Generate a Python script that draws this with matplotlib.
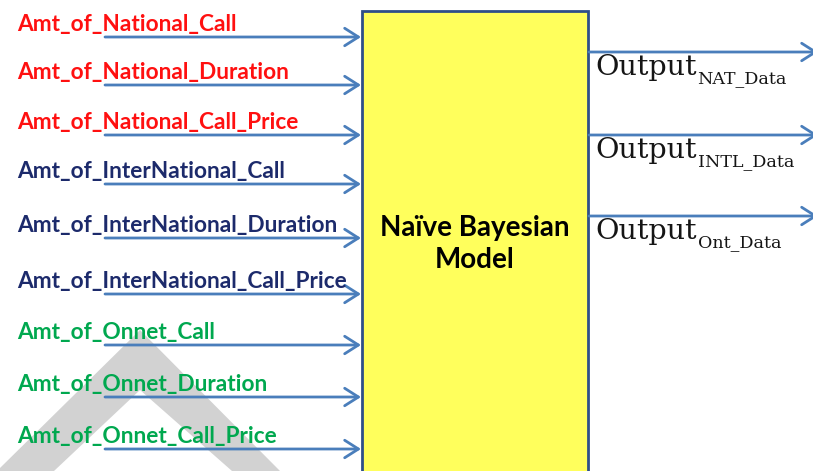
import matplotlib.pyplot as plt
from matplotlib.patches import Rectangle, Polygon

# inputs to the model (label, colour group)
input_labels = ['Amt_of_National_Call', 'Amt_of_National_Duration', 'Amt_of_National_Call_Price',
                'Amt_of_InterNational_Call', 'Amt_of_InterNational_Duration', 'Amt_of_InterNational_Call_Price',
                'Amt_of_Onnet_Call', 'Amt_of_Onnet_Duration', 'Amt_of_Onnet_Call_Price']
input_groups = ['nat', 'nat', 'nat', 'intl', 'intl', 'intl', 'onnet', 'onnet', 'onnet']
input_y = [37, 85, 135, 184, 238, 294, 345, 397, 449]

output_subs = ['NAT_Data', 'INTL_Data', 'Ont_Data']
output_y = [52, 135, 216]

model_name = 'Naïve Bayesian\nModel'

group_colors = {'nat': '#FF1010', 'intl': '#1C2A6B', 'onnet': '#00A84F'}
arrow_col = '#4A7EBB'
arrow_style = '->,head_length=0.55,head_width=0.35'

fig = plt.figure(figsize=(8.13, 4.71), dpi=100)
ax = fig.add_axes([0, 0, 1, 1])
ax.set_xlim(0, 813)
ax.set_ylim(471, 0)
ax.axis('off')

# grey chevron watermark
ax.add_patch(Polygon([(0, 471), (0, 468), (140, 330), (280, 471), (232, 471),
                      (140, 390), (54, 471)], closed=True, fc='#D2D2D2', ec='none', zorder=0))

# model box
ax.add_patch(Rectangle((362, 11), 226, 480, fc='#FFFF5C', ec='#2F4F88', lw=2, zorder=2))
ax.text(475, 244, model_name, ha='center', va='center', fontsize=20, fontweight='bold',
        family='Lato', color='black', linespacing=1.25, zorder=3)

# input arrows + labels
for lab, grp, y in zip(input_labels, input_groups, input_y):
    ax.annotate('', xy=(361, y), xytext=(105, y), annotation_clip=False,
                arrowprops=dict(arrowstyle=arrow_style, color=arrow_col,
                                lw=2, mutation_scale=18, shrinkA=0, shrinkB=0), zorder=2)
    ax.text(17, y - 6, lab, ha='left', va='baseline', fontsize=16.3, fontweight='bold',
            family='Lato', color=group_colors[grp], zorder=3)

# output arrows + labels
fig.canvas.draw()
renderer = fig.canvas.get_renderer()
for sub, y in zip(output_subs, output_y):
    ax.annotate('', xy=(818, y), xytext=(589, y), annotation_clip=False,
                arrowprops=dict(arrowstyle=arrow_style, color=arrow_col,
                                lw=2, mutation_scale=18, shrinkA=0, shrinkB=0), zorder=2)
    t = ax.text(595, y + 23, 'Output', ha='left', va='baseline',
                fontsize=20.5, family='DejaVu Serif', color='#151515', zorder=3)
    bb = t.get_window_extent(renderer).transformed(ax.transData.inverted())
    ax.text(bb.x1 + 1, y + 31, sub, ha='left', va='baseline',
            fontsize=12.6, family='DejaVu Serif', color='#151515', zorder=3)

fig.savefig('out.png', dpi=100)
